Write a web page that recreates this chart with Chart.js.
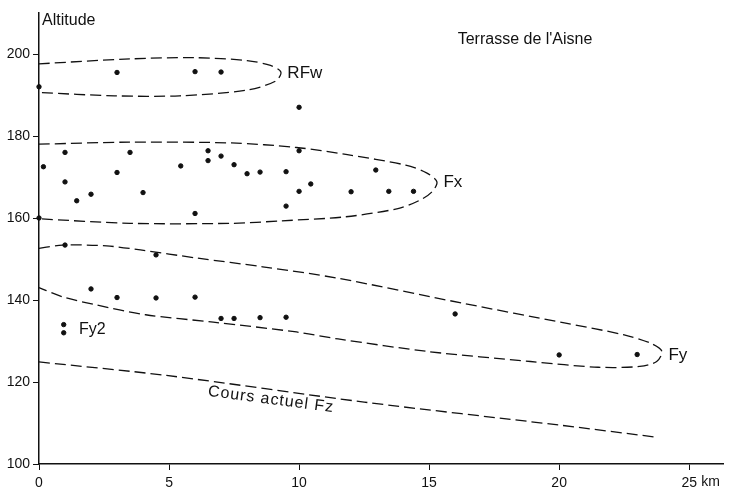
<!DOCTYPE html>
<html lang="fr">
<head>
<meta charset="utf-8">
<title>Terrasse de l'Aisne</title>
<script src="https://cdn.jsdelivr.net/npm/chart.js@4.4.1/dist/chart.umd.min.js"></script>
<style>
  html, body { margin: 0; padding: 0; background: #fff; }
  #graphique { display: block; }
</style>
</head>
<body>
<canvas id="graphique" width="731" height="494"></canvas>
<script>
const ticksDistance = [0, 5, 10, 15, 20, 25];
const ticksAltitude = [100, 120, 140, 160, 180, 200];

const pointsDistance = [
  0, 3, 6, 7, 10,
  0, 0.17, 1, 1, 1.45, 2, 3, 3.5, 4, 5.45, 6, 6.5, 6.5, 7, 7.5, 8, 8.5,
  9.5, 9.5, 10, 10, 10.45, 12, 12.95, 13.45, 14.4,
  1, 4.5, 2, 3, 4.5, 6, 7, 7.5, 8.5, 9.5, 16, 20, 23,
  0.95, 0.95,
];
const pointsAltitude = [
  192, 195.5, 195.7, 195.6, 187,
  160, 172.5, 176, 168.8, 164.2, 165.8, 171.1, 176, 166.2, 172.7, 161.1, 176.4, 174, 175.1, 173, 170.8, 171.2,
  171.3, 162.9, 176.4, 166.5, 168.3, 166.4, 171.7, 166.5, 166.5,
  153.4, 151, 142.7, 140.6, 140.5, 140.7, 135.5, 135.5, 135.7, 135.8, 136.6, 126.6, 126.7,
  134, 132,
];

const rfwDistance = [0, 3.5, 6, 8, 8.9, 9.3, 9.1, 8, 5.4, 2.9, 0];
const rfwAltitude = [197.6, 198.8, 199.1, 198.4, 197.2, 195.6, 193.4, 191.2, 189.8, 189.8, 190.6];

const fxDistance = [0, 3.5, 7.4, 9.9, 11.8, 14.1, 14.9, 15.3, 15.1, 14.6, 13.8, 11.8, 9.3, 7.4, 3.5, 0];
const fxAltitude = [178, 178.5, 178.3, 177.2, 175.5, 172.9, 171, 168.8, 166.3, 164.2, 162.3, 160.3, 159.3, 158.7, 158.7, 159.8];

const fyDistance = [0, 0.9, 2.6, 3.9, 6.1, 8.6, 11.5, 16.3, 20.2, 22.5, 23.5, 23.95, 23.75, 23.1, 21.5, 18.9, 15, 11.5, 9.9, 6.7, 4.1, 2.2, 0.9, 0];
const fyAltitude = [152.6, 153.4, 153.2, 152.2, 150.2, 148.1, 145.3, 139.2, 134.4, 131.5, 129.5, 127.5, 125, 123.8, 123.6, 125, 127.4, 130.5, 132.2, 134.6, 136.4, 138.8, 140.8, 143];

const fzDistance = [0, 4.9, 12.5, 20, 23.8];
const fzAltitude = [124.9, 121.6, 115.1, 109.5, 106.5];

const etiquettes = [
  { texte: "Altitude", x: 0.12, y: 208.2, taille: 16 },
  { texte: "Terrasse de l'Aisne", x: 16.1, y: 203.5, taille: 16 },
  { texte: "RFw", x: 9.55, y: 195.3, taille: 17 },
  { texte: "Fx", x: 15.55, y: 168.8, taille: 17 },
  { texte: "Fy", x: 24.2, y: 126.6, taille: 17 },
  { texte: "Fy2", x: 1.54, y: 132.7, taille: 16 },
  { texte: "Cours actuel Fz", x: 8.92, y: 115.7, taille: 16, angle: 7.5, centre: true },
];

const police = '"Liberation Sans", Arial, sans-serif';

function enPoints(xs, ys) {
  return xs.map((x, i) => ({ x, y: ys[i] }));
}

function courbe(xs, ys) {
  return {
    type: "line",
    data: enPoints(xs, ys),
    showLine: true,
    fill: false,
    borderColor: "#111",
    borderWidth: 1.3,
    borderDash: [11, 5],
    pointRadius: 0,
    tension: 0.3,
    clip: false,
  };
}

const pluginEtiquettes = {
  id: "etiquettes",
  afterDatasetsDraw(chart) {
    const { ctx, scales } = chart;
    ctx.save();
    ctx.fillStyle = "#111";
    ctx.textBaseline = "middle";

    etiquettes.forEach((e) => {
      const px = scales.x.getPixelForValue(e.x);
      const py = scales.y.getPixelForValue(e.y);
      ctx.font = `${e.taille}px ${police}`;
      ctx.save();
      ctx.translate(px, py);
      if (e.angle) {
        ctx.rotate((e.angle * Math.PI) / 180);
        ctx.letterSpacing = "1px";
      }
      ctx.textAlign = e.centre ? "center" : "left";
      ctx.fillText(e.texte, 0, 0);
      ctx.restore();
    });

    ctx.font = `14px ${police}`;
    ctx.textAlign = "left";
    ctx.textBaseline = "top";
    ctx.fillText("km", scales.x.getPixelForValue(25) + 12, scales.x.top + 6 + 5);
    ctx.restore();
  },
};

function optionsAxe(min, max, pas, valeurs, ecart) {
  return {
    type: "linear",
    min,
    max,
    afterBuildTicks(axe) {
      axe.ticks = valeurs.map((v) => ({ value: v }));
    },
    ticks: {
      stepSize: pas,
      color: "#111",
      font: { family: police, size: 14 },
      padding: ecart,
    },
    grid: {
      drawOnChartArea: false,
      drawTicks: true,
      tickLength: 6,
      tickColor: "#111",
      tickWidth: 1,
    },
    border: { display: true, color: "#111", width: 1.5 },
  };
}

const axeX = optionsAxe(0, 26.3, 5, ticksDistance, 5);
axeX.afterFit = (axe) => { axe.height = 30; };
const axeY = optionsAxe(100, 210, 20, ticksAltitude, 3);
axeY.afterFit = (axe) => { axe.width = 39; };

new Chart(document.getElementById("graphique"), {
  type: "scatter",
  data: {
    datasets: [
      {
        data: enPoints(pointsDistance, pointsAltitude),
        backgroundColor: "#111",
        borderColor: "#111",
        pointRadius: 2.2,
        pointHoverRadius: 2.2,
        clip: false,
      },
      courbe(rfwDistance, rfwAltitude),
      courbe(fxDistance, fxAltitude),
      courbe(fyDistance, fyAltitude),
      courbe(fzDistance, fzAltitude),
    ],
  },
  options: {
    responsive: false,
    animation: false,
    layout: { padding: { top: 13, right: 8, left: 0, bottom: 0 } },
    plugins: {
      legend: { display: false },
      tooltip: { enabled: false },
    },
    scales: { x: axeX, y: axeY },
  },
  plugins: [pluginEtiquettes],
});
</script>
</body>
</html>
